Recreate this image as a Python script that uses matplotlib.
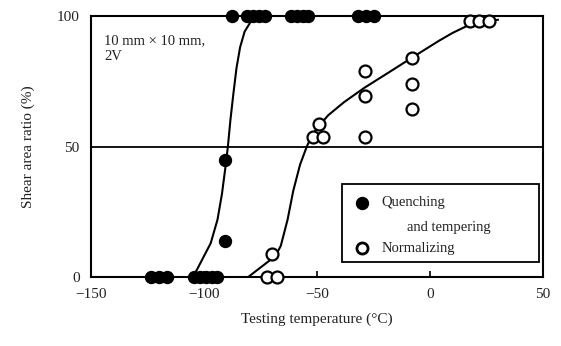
import matplotlib
matplotlib.use('Agg')
import matplotlib.pyplot as plt
from matplotlib.patches import Rectangle

plt.rcParams['font.family'] = ['Liberation Serif', 'DejaVu Serif']

# Quenching and tempering (filled)
qt_x = [-87.6, -81, -78.3, -75.7, -73, -61.5, -58.8, -56.2, -54, -31.9, -28.3, -24.8,
        -90.5, -90.5,
        -123.5, -120, -116.4, -104.4, -101.8, -99, -96.5, -94.3]
qt_y = [100, 100, 100, 100, 100, 100, 100, 100, 100, 100, 100, 100,
        45, 14,
        0, 0, 0, 0, 0, 0, 0, 0]

# Normalizing (open)
nm_x = [17.5, 21.8, 26.2, -28.8, -28.8, -28.8, -8, -8, -8, -49.1, -51.8, -47.3,
        -70, -72, -67.7]
nm_y = [98, 98, 98, 79, 69.5, 53.7, 83.8, 74, 64.5, 58.7, 53.7, 53.7,
        9, 0, 0]

# hand-drawn fitted curves
qt_curve_x = [-105, -103, -100, -97, -94, -92, -90.5, -89.4, -88.3, -87, -85.6, -84, -82,
              -79.5, -76, -72]
qt_curve_y = [0, 3, 8, 13, 22, 32, 42, 50, 60, 70, 80, 88, 94, 97.5, 99.5, 100]

nm_curve_x = [-80.5, -76, -73, -70, -67.5, -66, -64.5, -63, -60.5, -57.5, -54.5, -51.8,
              -48, -45, -38, -29, -18, -8, 4, 10, 16, 21, 30]
nm_curve_y = [0, 3, 5, 7, 9.5, 12, 17, 22, 33, 43, 50, 55,
              59, 62, 67, 72.5, 78.5, 84, 90.5, 93.5, 96, 97.7, 98.5]

fig = plt.figure(figsize=(5.61, 3.46), dpi=100)
ax = fig.add_axes([0.162, 0.199, 0.806, 0.755])

ax.axhline(50, color='black', lw=1.3, zorder=1)
ax.plot(qt_curve_x, qt_curve_y, color='black', lw=1.5, zorder=2)
ax.plot(nm_curve_x, nm_curve_y, color='black', lw=1.5, zorder=2)
ax.plot(qt_x, qt_y, 'o', color='black', ms=8.6, clip_on=False, zorder=3)
ax.plot(nm_x, nm_y, 'o', mfc='white', mec='black', mew=1.6, ms=8.6,
        clip_on=False, zorder=3)

ax.set_xlim(-150, 50)
ax.set_ylim(0, 100)
ax.set_xticks([-150, -100, -50, 0, 50])
ax.set_yticks([0, 50, 100])
ax.tick_params(axis='x', direction='in', length=4, width=1.2, labelsize=11, pad=8,
               labelcolor='#222222')
ax.tick_params(axis='y', length=0, labelsize=11, pad=8, labelcolor='#222222')
for s in ax.spines.values():
    s.set_linewidth(1.5)

ax.set_xlabel('Testing temperature (°C)', fontsize=11, labelpad=8, color='#222222')
ax.set_ylabel('Shear area ratio (%)', fontsize=11, labelpad=16, color='#222222')

ax.text(0.03, 0.93, '10 mm × 10 mm,\n2V', transform=ax.transAxes, fontsize=10.5,
        va='top', ha='left', linespacing=1.3, color='#222222')

# legend box
ax.add_patch(Rectangle((0.555, 0.058), 0.436, 0.30, transform=ax.transAxes,
                       fill=True, fc='white', ec='black', lw=1.3, zorder=4))
ax.plot([0.599], [0.285], 'o', color='black', ms=8.6, transform=ax.transAxes,
        zorder=5, clip_on=False)
ax.plot([0.599], [0.11], 'o', mfc='white', mec='black', mew=2, ms=8,
        transform=ax.transAxes, zorder=5, clip_on=False)
ax.text(0.643, 0.285, 'Quenching', transform=ax.transAxes, fontsize=10.5,
        va='center', ha='left', zorder=5, color='#222222')
ax.text(0.70, 0.19, 'and tempering', transform=ax.transAxes, fontsize=10.5,
        va='center', ha='left', zorder=5, color='#222222')
ax.text(0.643, 0.11, 'Normalizing', transform=ax.transAxes, fontsize=10.5,
        va='center', ha='left', zorder=5, color='#222222')

fig.savefig('out.png', dpi=100)
